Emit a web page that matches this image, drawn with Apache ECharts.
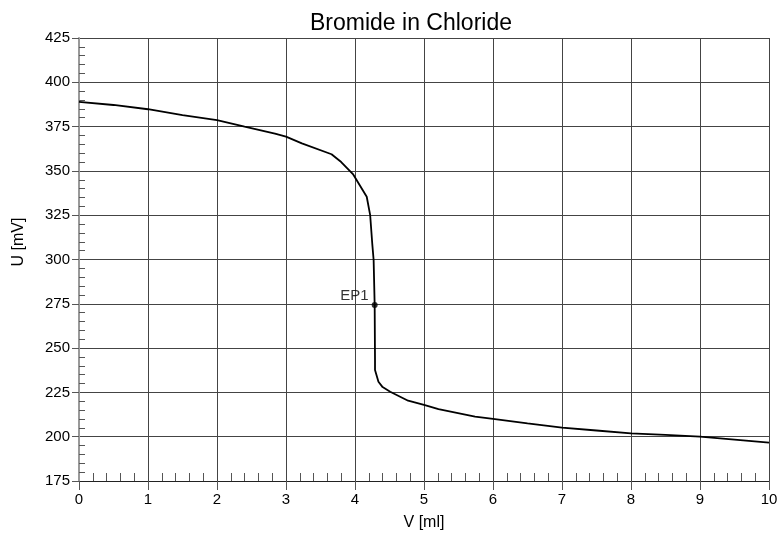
<!DOCTYPE html>
<html>
<head>
    <meta charset="utf-8">
    <title>Bromide in Chloride</title>
    <script src="https://cdn.jsdelivr.net/npm/echarts@6/dist/echarts.min.js"></script>
    <style>
        html, body { margin: 0; padding: 0; background: #fff; }
        #chart1 { width: 781px; height: 536px; }
    </style>
</head>
<body>
<div id="chart1"></div>
<script type="text/javascript">
    // titration curve
    var volume = [0, 0.5, 1, 1.5, 2, 2.4, 2.84, 3, 3.23, 3.66, 3.8, 3.97, 4.17, 4.22, 4.25, 4.27, 4.285, 4.29, 4.29, 4.34, 4.4, 4.51, 4.77, 5, 5.21, 5.74, 6, 6.5, 7, 7.5, 8, 8.5, 9, 9.5, 10];
    var potential = [389, 387.2, 384.8, 381.5, 378.7, 375, 371, 369.3, 365.5, 359.4, 355, 348.2, 335.4, 325, 309, 299.7, 274.3, 243, 237.6, 231, 228, 225.4, 220.3, 217.9, 215.5, 211.3, 210, 207.5, 205.1, 203.5, 201.9, 201, 200, 198.3, 196.6];
    var epName = ['EP1'];
    var epVolume = [4.285];
    var epPotential = [274.3];

    var curve = volume.map(function (v, i) { return [v, potential[i]]; });
    var endPoints = epName.map(function (n, i) { return { name: n, value: [epVolume[i], epPotential[i]] }; });

    var font = 'Liberation Sans, Arial, sans-serif';
    var myChart1 = echarts.init(document.getElementById('chart1'));
    myChart1.setOption({
        animation: false,
        title: {
            text: 'Bromide in Chloride',
            left: 406,
            textAlign: 'center',
            top: 7,
            textStyle: { fontFamily: font, fontSize: 23, fontWeight: 'normal', color: '#000' }
        },
        grid: { left: 79, right: 12, top: 38, bottom: 55 },
        xAxis: {
            type: 'value',
            min: 0, max: 10, interval: 1,
            name: 'V [ml]',
            nameLocation: 'middle',
            nameGap: 34,
            nameTextStyle: { fontFamily: font, fontSize: 16, color: '#000' },
            axisLine: { show: true, lineStyle: { color: '#222', width: 1 } },
            axisTick: { show: true, length: 9, lineStyle: { color: '#555' } },
            minorTick: { show: true, splitNumber: 5, length: -8, lineStyle: { color: '#555' } },
            axisLabel: { margin: 11, fontFamily: font, fontSize: 15, color: '#000' },
            splitLine: { show: true, lineStyle: { color: '#444', width: 1 } }
        },
        yAxis: {
            type: 'value',
            min: 175, max: 425, interval: 25,
            name: 'U [mV]',
            nameLocation: 'middle',
            nameGap: 52,
            nameTextStyle: { fontFamily: font, fontSize: 16, color: '#000', padding: [0, 0, 0, 35] },
            axisLine: { show: true, lineStyle: { color: '#999', width: 2 } },
            axisTick: { show: true, length: 7, lineStyle: { color: '#555' } },
            minorTick: { show: true, splitNumber: 5, length: -6, lineStyle: { color: '#555' } },
            axisLabel: { margin: 9, fontFamily: font, fontSize: 15, color: '#000' },
            splitLine: { show: true, lineStyle: { color: '#444', width: 1 } }
        },
        series: [{
            name: 'U',
            type: 'line',
            data: curve,
            showSymbol: false,
            smooth: false,
            lineStyle: { color: '#000', width: 1.8 },
            z: 3
        }, {
            name: 'EP',
            type: 'scatter',
            data: endPoints,
            symbolSize: 6,
            itemStyle: { color: '#000' },
            label: {
                show: true,
                formatter: '{b}',
                position: 'left',
                distance: 3,
                offset: [0, -9],
                fontFamily: font,
                fontSize: 15,
                color: '#000'
            },
            z: 4
        }]
    });
</script>
</body>
</html>
